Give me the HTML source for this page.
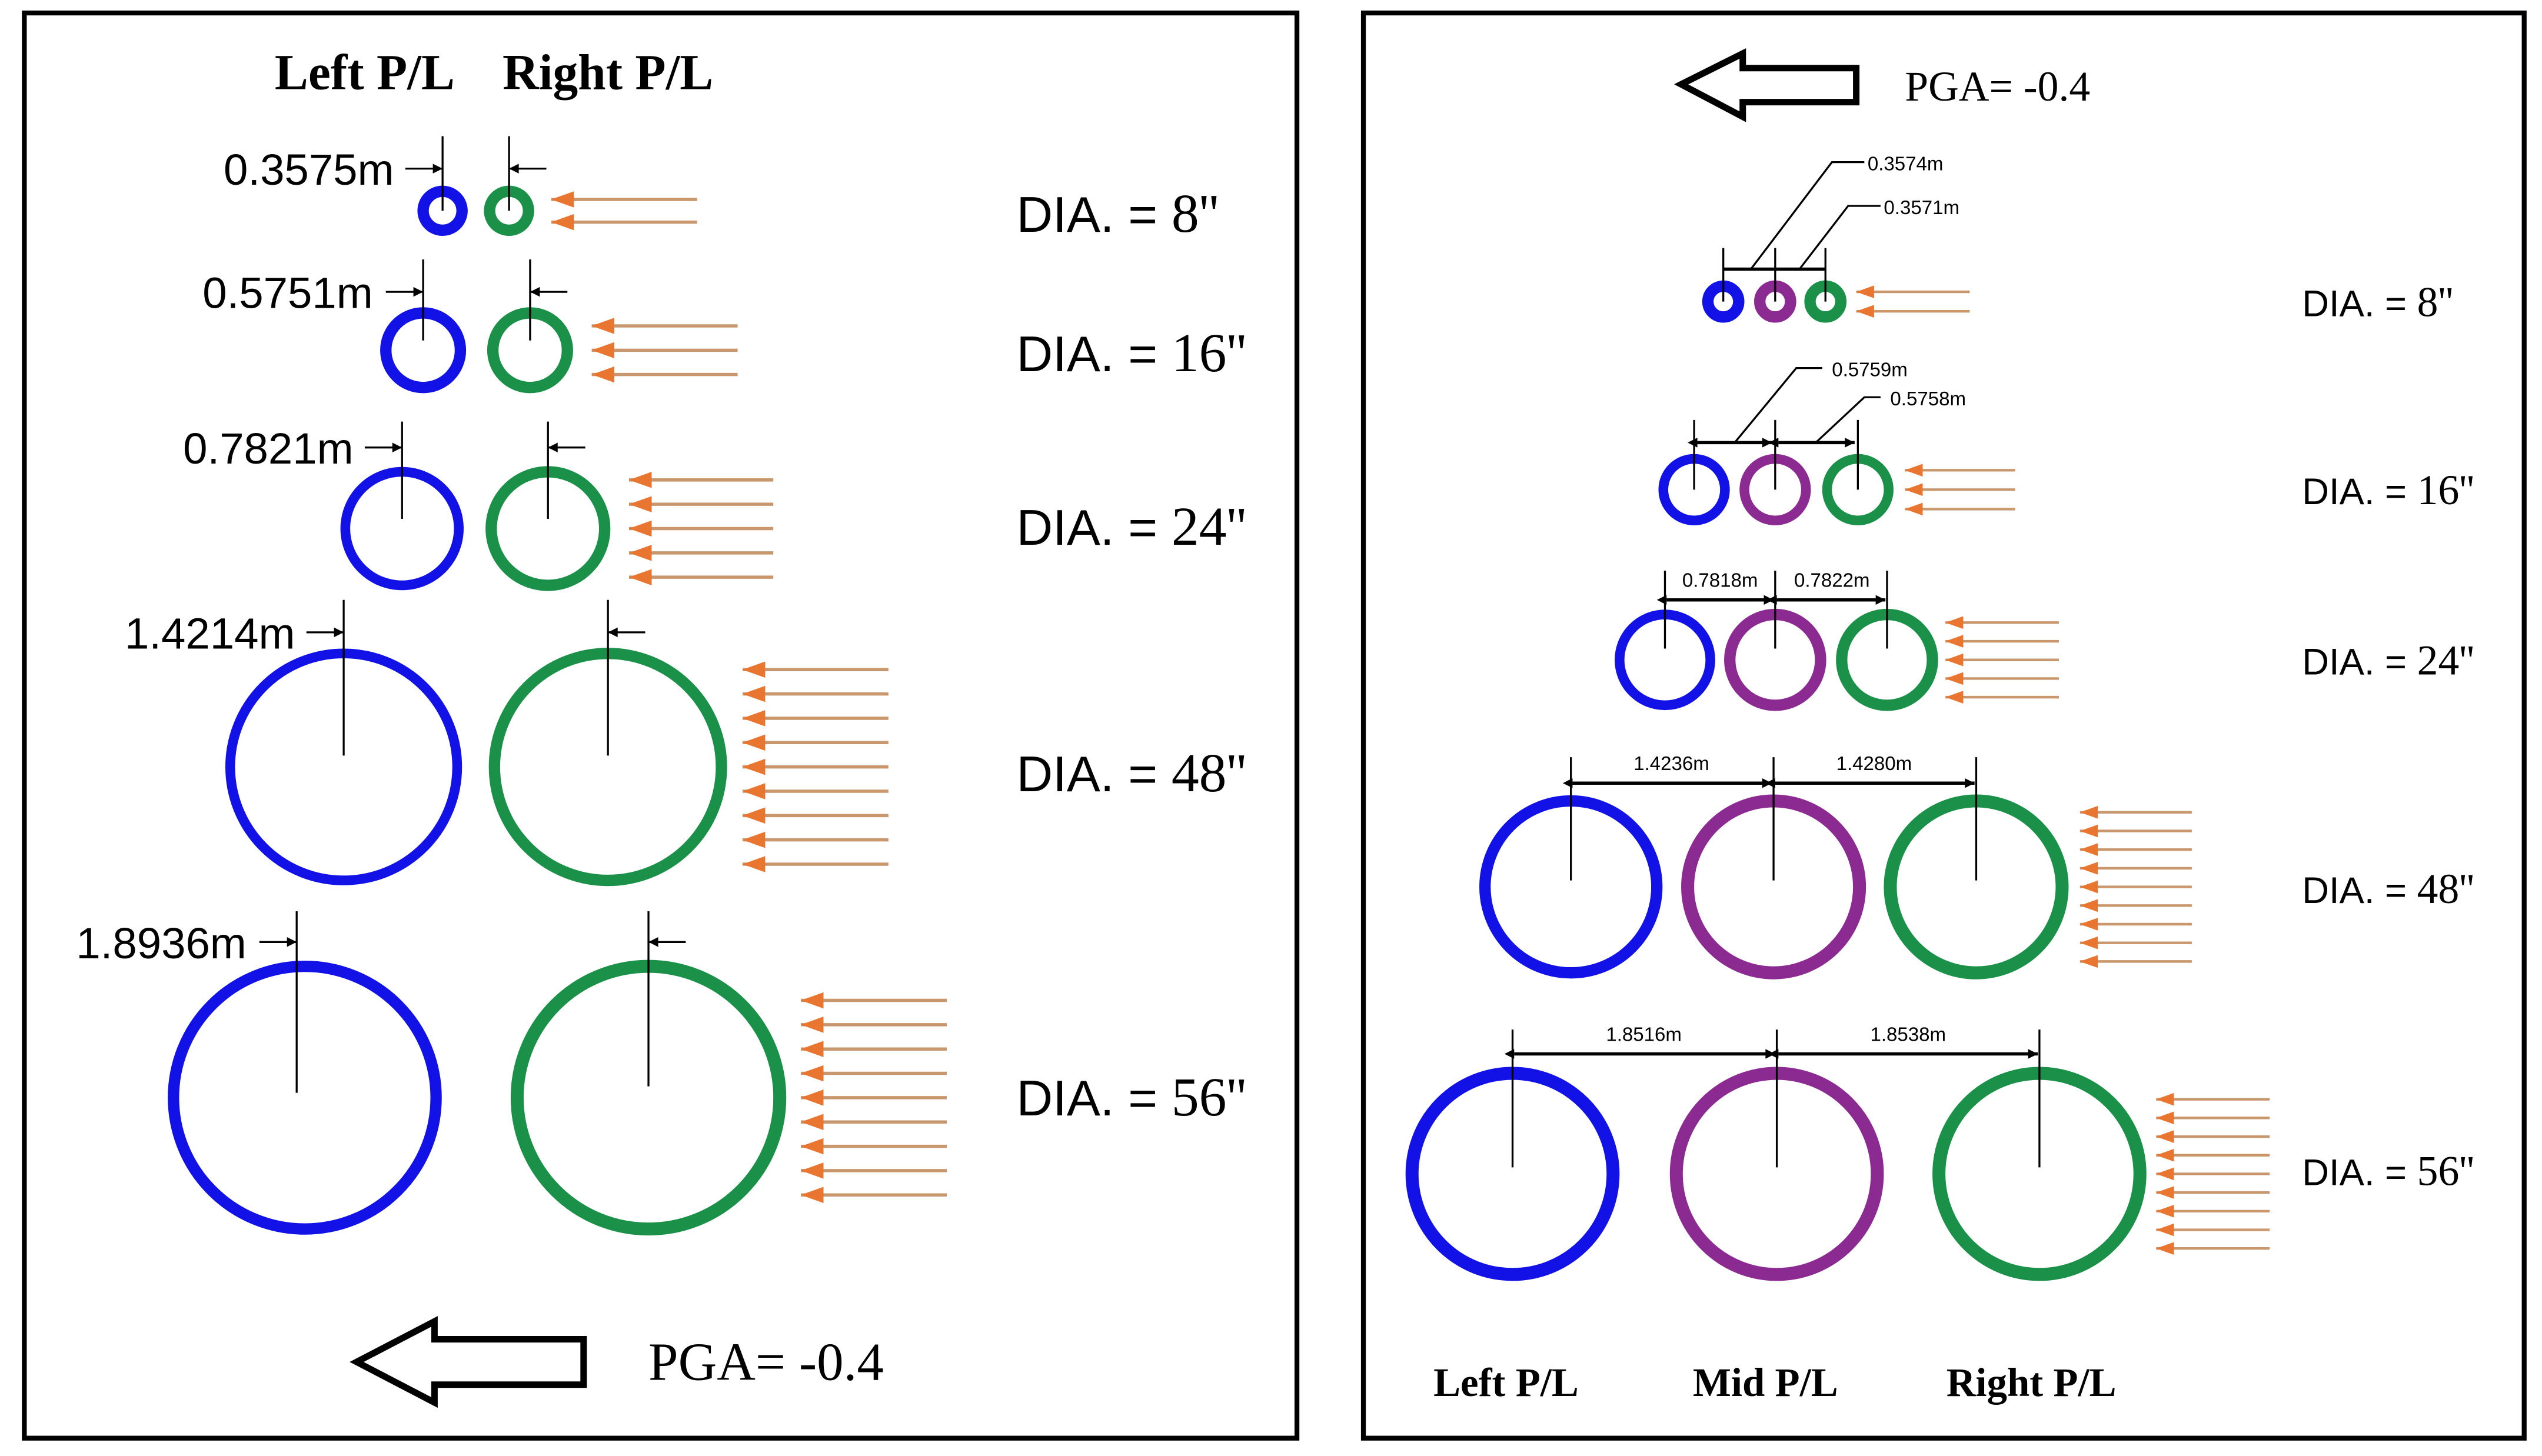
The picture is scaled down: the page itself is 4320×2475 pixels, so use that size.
<!DOCTYPE html>
<html><head><meta charset="utf-8"><style>html,body{margin:0;padding:0;background:#fff}svg{display:block}</style></head><body>
<svg width="4320" height="2475" viewBox="0 0 1568 898" preserveAspectRatio="none" xmlns="http://www.w3.org/2000/svg">
<defs>
<marker id="oa" viewBox="0 0 14 10" refX="14" refY="5" markerWidth="14" markerHeight="10" markerUnits="userSpaceOnUse" orient="auto"><path d="M0,0 L14,5 L0,10 Z" fill="#e87530"/></marker>
<marker id="ob" viewBox="0 0 14 10" refX="14" refY="5" markerWidth="11" markerHeight="8" markerUnits="userSpaceOnUse" orient="auto"><path d="M0,0 L14,5 L0,10 Z" fill="#e87530"/></marker>
<marker id="ba" viewBox="0 0 10 10" refX="10" refY="5" markerWidth="8" markerHeight="6" markerUnits="userSpaceOnUse" orient="auto"><path d="M0,0 L10,5 L0,10 Z" fill="#000"/></marker>
<marker id="bs" viewBox="0 0 10 10" refX="0" refY="5" markerWidth="8" markerHeight="6" markerUnits="userSpaceOnUse" orient="auto-start-reverse"><path d="M0,0 L10,5 L0,10 Z" fill="#000"/></marker>
</defs>
<rect x="15" y="8" width="785" height="879" fill="none" stroke="#000" stroke-width="3"/>
<rect x="841" y="8" width="716" height="879" fill="none" stroke="#000" stroke-width="3"/>

<g font-family="Liberation Serif, serif" font-weight="bold" font-size="31" text-anchor="middle">
<text x="225" y="55">Left P/L</text><text x="375" y="55">Right P/L</text></g>

<g fill="none" stroke-width="7">
<circle cx="273" cy="130" r="12" stroke="#1212e6"/><circle cx="314" cy="130" r="12" stroke="#1b9049"/>
<circle cx="261" cy="216" r="23" stroke="#1212e6"/><circle cx="327" cy="216" r="23" stroke="#1b9049"/>
<circle cx="248" cy="326" r="35" stroke="#1212e6" stroke-width="6"/><circle cx="338" cy="326" r="35" stroke="#1b9049"/>
<circle cx="212" cy="473" r="70" stroke="#1212e6" stroke-width="6"/><circle cx="375" cy="473" r="70" stroke="#1b9049"/>
<circle cx="188" cy="677" r="81" stroke="#1212e6"/><circle cx="400" cy="677" r="81" stroke="#1b9049" stroke-width="8"/>
</g>
<g stroke="#000" stroke-width="1.2">
<line x1="273" y1="84" x2="273" y2="130"/><line x1="314" y1="84" x2="314" y2="130"/>
<line x1="250" y1="104" x2="273" y2="104" marker-end="url(#ba)"/><line x1="337" y1="104" x2="314" y2="104" marker-end="url(#ba)"/>
<line x1="261" y1="160" x2="261" y2="210"/><line x1="327" y1="160" x2="327" y2="210"/>
<line x1="238" y1="180" x2="261" y2="180" marker-end="url(#ba)"/><line x1="350" y1="180" x2="327" y2="180" marker-end="url(#ba)"/>
<line x1="248" y1="260" x2="248" y2="320"/><line x1="338" y1="260" x2="338" y2="320"/>
<line x1="225" y1="276" x2="248" y2="276" marker-end="url(#ba)"/><line x1="361" y1="276" x2="338" y2="276" marker-end="url(#ba)"/>
<line x1="212" y1="370" x2="212" y2="466"/><line x1="375" y1="370" x2="375" y2="466"/>
<line x1="189" y1="390" x2="212" y2="390" marker-end="url(#ba)"/><line x1="398" y1="390" x2="375" y2="390" marker-end="url(#ba)"/>
<line x1="183" y1="562" x2="183" y2="674"/><line x1="400" y1="562" x2="400" y2="670"/>
<line x1="160" y1="581" x2="183" y2="581" marker-end="url(#ba)"/><line x1="423" y1="581" x2="400" y2="581" marker-end="url(#ba)"/>
</g>
<g font-family="Liberation Sans, sans-serif" font-size="27" text-anchor="end">
<text x="243" y="114">0.3575m</text><text x="230" y="190">0.5751m</text><text x="218" y="286">0.7821m</text><text x="182" y="400">1.4214m</text><text x="152" y="591">1.8936m</text></g>

<g stroke="#c9976e" stroke-width="2" marker-end="url(#oa)">
<line x1="430" y1="123" x2="340" y2="123"/><line x1="430" y1="137" x2="340" y2="137"/>
<line x1="455" y1="201" x2="365" y2="201"/><line x1="455" y1="216" x2="365" y2="216"/><line x1="455" y1="231" x2="365" y2="231"/>
<line x1="477" y1="296" x2="388" y2="296"/><line x1="477" y1="311" x2="388" y2="311"/><line x1="477" y1="326" x2="388" y2="326"/><line x1="477" y1="341" x2="388" y2="341"/><line x1="477" y1="356" x2="388" y2="356"/>
<line x1="548" y1="413" x2="458" y2="413"/><line x1="548" y1="428" x2="458" y2="428"/><line x1="548" y1="443" x2="458" y2="443"/><line x1="548" y1="458" x2="458" y2="458"/><line x1="548" y1="473" x2="458" y2="473"/><line x1="548" y1="488" x2="458" y2="488"/><line x1="548" y1="503" x2="458" y2="503"/><line x1="548" y1="518" x2="458" y2="518"/><line x1="548" y1="533" x2="458" y2="533"/>
<line x1="584" y1="617" x2="494" y2="617"/><line x1="584" y1="632" x2="494" y2="632"/><line x1="584" y1="647" x2="494" y2="647"/><line x1="584" y1="662" x2="494" y2="662"/><line x1="584" y1="677" x2="494" y2="677"/><line x1="584" y1="692" x2="494" y2="692"/><line x1="584" y1="707" x2="494" y2="707"/><line x1="584" y1="722" x2="494" y2="722"/><line x1="584" y1="737" x2="494" y2="737"/>
</g>
<g font-size="31" font-family="Liberation Sans, sans-serif">
<text x="627" y="143">DIA. = <tspan font-family="Liberation Serif, serif" font-size="34">8''</tspan></text>
<text x="627" y="229">DIA. = <tspan font-family="Liberation Serif, serif" font-size="34">16''</tspan></text>
<text x="627" y="336">DIA. = <tspan font-family="Liberation Serif, serif" font-size="34">24''</tspan></text>
<text x="627" y="488">DIA. = <tspan font-family="Liberation Serif, serif" font-size="34">48''</tspan></text>
<text x="627" y="688">DIA. = <tspan font-family="Liberation Serif, serif" font-size="34">56''</tspan></text>
</g>
<path d="M220,840 L268,815 L268,826 L360,826 L360,854 L268,854 L268,865 Z" fill="#fff" stroke="#000" stroke-width="4" stroke-linejoin="miter"/>
<text x="400" y="851" font-family="Liberation Serif, serif" font-size="33">PGA= -0.4</text>

<!-- right panel -->
<path d="M1037,52 L1075,33 L1075,42 L1145,42 L1145,63 L1075,63 L1075,72 Z" fill="#fff" stroke="#000" stroke-width="4"/>
<text x="1175" y="62" font-family="Liberation Serif, serif" font-size="26">PGA= -0.4</text>

<g fill="none" stroke-width="7">
<circle cx="1063" cy="186" r="9.5" stroke="#1212e6"/><circle cx="1095" cy="186" r="9.5" stroke="#8b2a90"/><circle cx="1126" cy="186" r="9.5" stroke="#1b9049"/>
<circle cx="1045" cy="302" r="19" stroke="#1212e6" stroke-width="6"/><circle cx="1095" cy="302" r="19" stroke="#8b2a90" stroke-width="6"/><circle cx="1146" cy="302" r="19" stroke="#1b9049" stroke-width="6"/>
<circle cx="1027" cy="407" r="28" stroke="#1212e6" stroke-width="6"/><circle cx="1095" cy="407" r="28" stroke="#8b2a90"/><circle cx="1164" cy="407" r="28" stroke="#1b9049"/>
<circle cx="969" cy="547" r="53" stroke="#1212e6"/><circle cx="1094" cy="547" r="53" stroke="#8b2a90" stroke-width="8"/><circle cx="1219" cy="547" r="53" stroke="#1b9049" stroke-width="8"/>
<circle cx="933" cy="724" r="62" stroke="#1212e6" stroke-width="8"/><circle cx="1096" cy="724" r="62" stroke="#8b2a90" stroke-width="8"/><circle cx="1258" cy="724" r="62" stroke="#1b9049" stroke-width="8"/>
</g>
<g stroke="#000" stroke-width="1.2" fill="none">
<line x1="1063" y1="153" x2="1063" y2="186"/><line x1="1095" y1="153" x2="1095" y2="186"/><line x1="1126" y1="153" x2="1126" y2="186"/>
<line x1="1063" y1="166" x2="1126" y2="166" stroke-width="2"/>
<polyline points="1080,166 1130,100 1150,100"/><polyline points="1110,166 1140,127 1160,127"/>
<line x1="1045" y1="259" x2="1045" y2="302"/><line x1="1095" y1="259" x2="1095" y2="302"/><line x1="1146" y1="259" x2="1146" y2="302"/>
<line x1="1047" y1="273" x2="1093" y2="273" stroke-width="2" marker-start="url(#bs)" marker-end="url(#ba)"/>
<line x1="1097" y1="273" x2="1144" y2="273" stroke-width="2" marker-start="url(#bs)" marker-end="url(#ba)"/>
<polyline points="1070,273 1108,227 1124,227"/><polyline points="1120,273 1150,245 1160,245"/>
<line x1="1027" y1="352" x2="1027" y2="400"/><line x1="1095" y1="352" x2="1095" y2="400"/><line x1="1164" y1="352" x2="1164" y2="400"/>
<line x1="1028" y1="370" x2="1094" y2="370" stroke-width="2" marker-start="url(#bs)" marker-end="url(#ba)"/>
<line x1="1096" y1="370" x2="1163" y2="370" stroke-width="2" marker-start="url(#bs)" marker-end="url(#ba)"/>
<line x1="969" y1="467" x2="969" y2="543"/><line x1="1094" y1="467" x2="1094" y2="543"/><line x1="1219" y1="467" x2="1219" y2="543"/>
<line x1="970" y1="483" x2="1093" y2="483" stroke-width="2" marker-start="url(#bs)" marker-end="url(#ba)"/>
<line x1="1095" y1="483" x2="1218" y2="483" stroke-width="2" marker-start="url(#bs)" marker-end="url(#ba)"/>
<line x1="933" y1="635" x2="933" y2="720"/><line x1="1096" y1="635" x2="1096" y2="720"/><line x1="1258" y1="635" x2="1258" y2="720"/>
<line x1="934" y1="650" x2="1095" y2="650" stroke-width="2" marker-start="url(#bs)" marker-end="url(#ba)"/>
<line x1="1097" y1="650" x2="1257" y2="650" stroke-width="2" marker-start="url(#bs)" marker-end="url(#ba)"/>
</g>
<g font-family="Liberation Sans, sans-serif" font-size="12">
<text x="1152" y="105">0.3574m</text><text x="1162" y="132">0.3571m</text>
<text x="1130" y="232">0.5759m</text><text x="1166" y="250">0.5758m</text>
<g text-anchor="middle"><text x="1061" y="362">0.7818m</text><text x="1130" y="362">0.7822m</text>
<text x="1031" y="475">1.4236m</text><text x="1156" y="475">1.4280m</text>
<text x="1014" y="642">1.8516m</text><text x="1177" y="642">1.8538m</text></g></g>

<g stroke="#c9976e" stroke-width="1.6" marker-end="url(#ob)">
<line x1="1215" y1="180" x2="1145" y2="180"/><line x1="1215" y1="192" x2="1145" y2="192"/>
<line x1="1243" y1="290" x2="1175" y2="290"/><line x1="1243" y1="302" x2="1175" y2="302"/><line x1="1243" y1="314" x2="1175" y2="314"/>
<line x1="1270" y1="384" x2="1200" y2="384"/><line x1="1270" y1="395.5" x2="1200" y2="395.5"/><line x1="1270" y1="407" x2="1200" y2="407"/><line x1="1270" y1="418.5" x2="1200" y2="418.5"/><line x1="1270" y1="430" x2="1200" y2="430"/>
<line x1="1352" y1="501" x2="1283" y2="501"/><line x1="1352" y1="512.5" x2="1283" y2="512.5"/><line x1="1352" y1="524" x2="1283" y2="524"/><line x1="1352" y1="535.5" x2="1283" y2="535.5"/><line x1="1352" y1="547" x2="1283" y2="547"/><line x1="1352" y1="558.5" x2="1283" y2="558.5"/><line x1="1352" y1="570" x2="1283" y2="570"/><line x1="1352" y1="581.5" x2="1283" y2="581.5"/><line x1="1352" y1="593" x2="1283" y2="593"/>
<line x1="1400" y1="678" x2="1330" y2="678"/><line x1="1400" y1="689.5" x2="1330" y2="689.5"/><line x1="1400" y1="701" x2="1330" y2="701"/><line x1="1400" y1="712.5" x2="1330" y2="712.5"/><line x1="1400" y1="724" x2="1330" y2="724"/><line x1="1400" y1="735.5" x2="1330" y2="735.5"/><line x1="1400" y1="747" x2="1330" y2="747"/><line x1="1400" y1="758.5" x2="1330" y2="758.5"/><line x1="1400" y1="770" x2="1330" y2="770"/>
</g>
<g font-size="23" font-family="Liberation Sans, sans-serif">
<text x="1420" y="195">DIA. = <tspan font-family="Liberation Serif, serif" font-size="26">8''</tspan></text>
<text x="1420" y="311">DIA. = <tspan font-family="Liberation Serif, serif" font-size="26">16''</tspan></text>
<text x="1420" y="416">DIA. = <tspan font-family="Liberation Serif, serif" font-size="26">24''</tspan></text>
<text x="1420" y="557">DIA. = <tspan font-family="Liberation Serif, serif" font-size="26">48''</tspan></text>
<text x="1420" y="731">DIA. = <tspan font-family="Liberation Serif, serif" font-size="26">56''</tspan></text>
</g>
<g font-family="Liberation Serif, serif" font-weight="bold" font-size="25" text-anchor="middle">
<text x="929" y="861">Left P/L</text><text x="1089" y="861">Mid P/L</text><text x="1253" y="861">Right P/L</text></g>
</svg>
</body></html>
